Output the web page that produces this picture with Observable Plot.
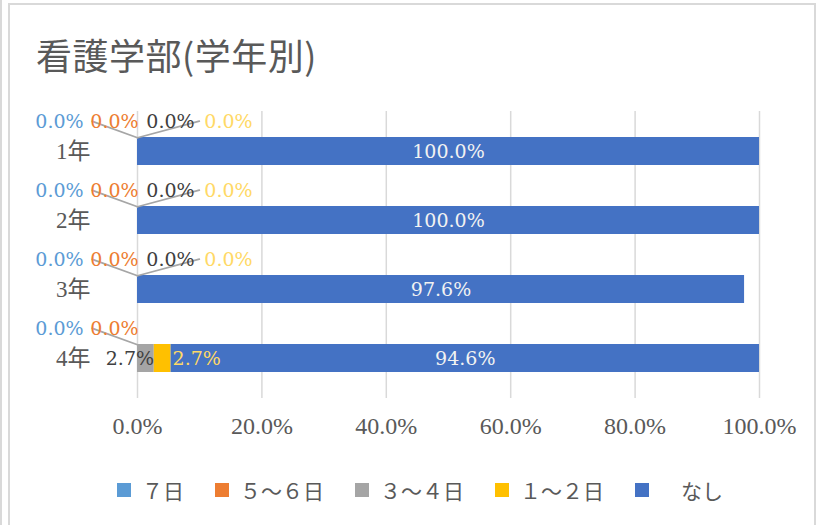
<!DOCTYPE html>
<html><head><meta charset="utf-8">
<script src="https://cdn.jsdelivr.net/npm/d3@7"></script>
<script src="https://cdn.jsdelivr.net/npm/@observablehq/plot@0.6"></script>
<style>
body{margin:0;background:#fff;}
#root{position:relative;width:823px;height:525px;overflow:hidden;background:#fff;}
#frame{position:absolute;left:8px;top:3px;width:804px;height:540px;border:2px solid #d9d9d9;}
#edge{position:absolute;left:0;top:0;width:2px;height:525px;background:#d9d9d9;}
#title{position:absolute;left:36px;top:36px;font-size:36px;letter-spacing:0.5px;font-family:"Noto Sans CJK JP";color:#595959;line-height:1;white-space:nowrap;}
#chart{position:absolute;left:0;top:95px;}
#legend{position:absolute;left:117px;top:478px;display:flex;gap:31px;font-size:21px;font-family:"Noto Sans CJK JP";color:#595959;line-height:24px;white-space:nowrap;}
.item{display:flex;align-items:center;}
.sw{width:14px;height:14px;margin-right:11px;}
</style></head><body>
<div id="root">
  <div id="edge"></div>
  <div id="frame"></div>
  <div id="title"></div>
  <div id="chart"></div>
  <div id="legend"></div>
</div>
<script>
const titleText = "看護学部(学年別)";
const categories = ["1年", "2年", "3年", "4年"];
const seriesNames = ["7日", "5～6日", "3～4日", "1～2日", "なし"];
const legendLabels = ["７日", "５～６日", "３～４日", "１～２日", "　なし"];
const seriesColors = ["#5B9BD5", "#ED7D31", "#A5A5A5", "#FFC000", "#4472C4"];
const labelColors = ["#5B9BD5", "#ED7D31", "#404040", "#FFD966", "#F2F2F2"];
const v7 = [0, 0, 0, 0];
const v56 = [0, 0, 0, 0];
const v34 = [0, 0, 0, 2.7];
const v12 = [0, 0, 0, 2.7];
const vNone = [100, 100, 97.6, 94.6];
const xTicks = [0, 20, 40, 60, 80, 100];

const seriesValues = [v7, v56, v34, v12, vNone];
const rows = [];
categories.forEach((cat, i) => {
  let acc = 0;
  seriesValues.forEach((vals, j) => {
    const v = vals[i];
    rows.push({cat, series: seriesNames[j], j, value: v, x1: acc, x2: acc + v});
    acc += v;
  });
});

document.getElementById("title").textContent = titleText;

const fmt = d => d.toFixed(1) + "%";
const serif = "Liberation Serif, Noto Sans CJK JP, serif";
const labelFont = "DejaVu Serif, serif";
const labelSize = 19;
const zeroDx = [-78, -23, 33, 91];
const leaderShape = {draw(context, l) { context.moveTo(0, 0); context.lineTo(0, -l); }};

const marks = [
  Plot.gridX(xTicks, {stroke: "#D9D9D9", strokeOpacity: 1, strokeWidth: 1.5}),
  Plot.axisX(xTicks, {tickSize: 0, tickPadding: 18, tickFormat: fmt, fontSize: 24, color: "#595959", label: null, fontFamily: serif}),
  Plot.axisY({tickSize: 0, tickPadding: 47, fontSize: 23, color: "#595959", label: null, fontFamily: serif}),
  Plot.barX(rows.filter(d => d.value > 0), {x1: "x1", x2: "x2", y: "cat", fill: "series"}),
  Plot.vector(rows.filter(d => d.j === 0 && d.value === 0), {x: "x1", y: "cat", dy: -13.75, anchor: "start", length: 48, rotate: -70, shape: leaderShape, stroke: "#A6A6A6", strokeWidth: 1.75}),
  Plot.vector(rows.filter(d => d.j === 3 && d.value === 0), {x: "x1", y: "cat", dy: -13.75, anchor: "start", length: 64, rotate: 75, shape: leaderShape, stroke: "#A6A6A6", strokeWidth: 1.75}),
  Plot.text(rows.filter(d => d.j === 4), {x: d => (d.x1 + d.x2) / 2, y: "cat", text: d => fmt(d.value), fill: labelColors[4], fontSize: labelSize, fontFamily: labelFont})
];
for (let j = 0; j < 4; j++) {
  marks.push(Plot.text(rows.filter(d => d.j === j && d.value === 0), {x: "x1", y: "cat", text: d => fmt(d.value), fill: labelColors[j], dx: zeroDx[j], dy: -30, fontSize: labelSize, fontFamily: labelFont}));
}
marks.push(Plot.text(rows.filter(d => d.j === 2 && d.value > 0), {x: d => (d.x1 + d.x2) / 2, y: "cat", text: d => fmt(d.value), fill: labelColors[2], dx: -16, fontSize: labelSize, fontFamily: labelFont}));
marks.push(Plot.text(rows.filter(d => d.j === 3 && d.value > 0), {x: d => (d.x1 + d.x2) / 2, y: "cat", text: d => fmt(d.value), fill: labelColors[3], dx: 34, fontSize: labelSize, fontFamily: labelFont}));

const plot = Plot.plot({
  width: 823, height: 365,
  marginLeft: 137, marginRight: 64, marginTop: 16, marginBottom: 62,
  x: {domain: [0, 100]},
  y: {domain: categories, paddingInner: 0.6014, paddingOuter: 0.38},
  color: {domain: seriesNames, range: seriesColors},
  style: {background: "transparent", overflow: "visible"},
  marks
});
document.getElementById("chart").appendChild(plot);

const legend = document.getElementById("legend");
const colorScale = plot.scale("color");
seriesNames.forEach((s, j) => {
  const item = document.createElement("div");
  item.className = "item";
  const sw = document.createElement("div");
  sw.className = "sw";
  sw.style.background = colorScale.range[colorScale.domain.indexOf(s)];
  const lab = document.createElement("span");
  lab.textContent = legendLabels[j];
  item.appendChild(sw);
  item.appendChild(lab);
  legend.appendChild(item);
});
</script>
</body></html>
